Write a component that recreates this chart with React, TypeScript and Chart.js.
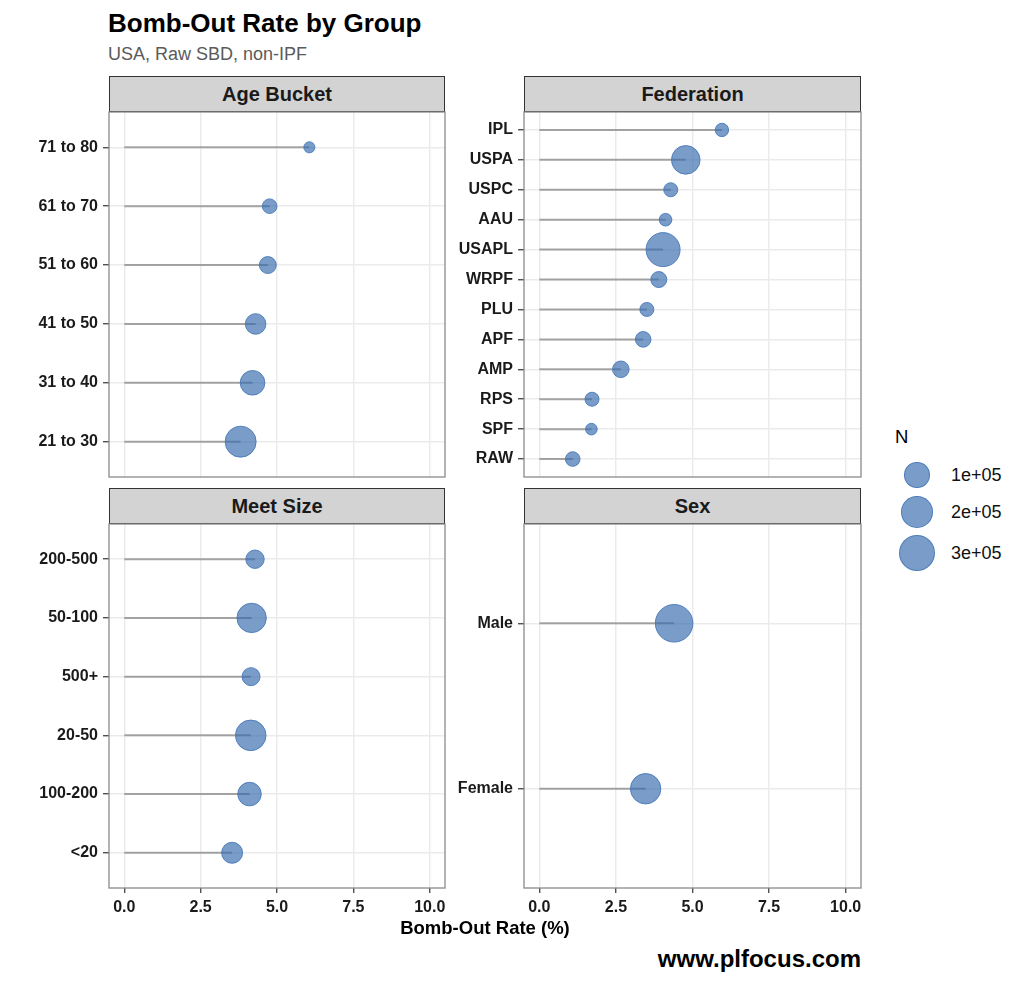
import React, { useEffect, useRef } from 'react';
import { Chart, registerables } from 'chart.js';

Chart.register(...registerables);

// ---------- data (top-to-bottom order as displayed) ----------
const AGE_CATS = ['71 to 80', '61 to 70', '51 to 60', '41 to 50', '31 to 40', '21 to 30'];
const AGE_RATE = [6.06, 4.76, 4.70, 4.30, 4.20, 3.81];
const AGE_N = [200, 8000, 19000, 46000, 90000, 188000];

const FED_CATS = ['IPL', 'USPA', 'USPC', 'AAU', 'USAPL', 'WRPF', 'PLU', 'APF', 'AMP', 'RPS', 'SPF', 'RAW'];
const FED_RATE = [5.96, 4.78, 4.29, 4.12, 4.04, 3.90, 3.51, 3.39, 2.66, 1.72, 1.70, 1.09];
const FED_N = [4000, 147000, 5800, 2200, 247000, 14000, 5800, 12000, 17000, 5800, 700, 7900];

const MEET_CATS = ['200-500', '50-100', '500+', '20-50', '100-200', '<20'];
const MEET_RATE = [4.28, 4.17, 4.15, 4.14, 4.10, 3.53];
const MEET_N = [28500, 160000, 25700, 181000, 77000, 50000];

const SEX_CATS = ['Male', 'Female'];
const SEX_RATE = [4.40, 3.47];
const SEX_N = [328000, 178000];

const X_TICKS = [0, 2.5, 5, 7.5, 10];
const SIZE_BREAKS = [100000, 200000, 300000];
const SIZE_LABELS = ['1e+05', '2e+05', '3e+05'];

// ---------- styling ----------
const FONT = '"Liberation Sans", Arial, Helvetica, sans-serif';
const FILL = 'rgba(52,104,172,0.66)';
const EDGE = 'rgba(72,122,186,0.9)';
const LINE = 'rgba(110,110,110,0.6)';

// size scale: radius grows with sqrt(N)
function sizeToRadius(n: number): number {
  return 5.19 + 0.02376 * Math.sqrt(n);
}

const panelBorder = {
  id: 'panelBorder',
  afterDatasetsDraw(chart: any) {
    const { ctx, chartArea } = chart;
    const { left, top, right, bottom } = chartArea;
    ctx.save();
    ctx.strokeStyle = '#8a8a8a';
    ctx.lineWidth = 1.3;
    ctx.strokeRect(left, top, right - left, bottom - top);
    ctx.restore();
  },
};

type PanelProps = {
  title: string;
  cats: string[];
  rates: number[];
  ns: number[];
  pl: number;
  pt: number;
  pw: number;
  ph: number;
  showX: boolean;
};

const Y_AXIS_W = 90;
const X_AXIS_H = 40;

function zeroPad(s: any) {
  s.paddingTop = 0;
  s.paddingBottom = 0;
  s.paddingLeft = 0;
  s.paddingRight = 0;
}

function Panel({ title, cats, rates, ns, pl, pt, pw, ph, showX }: PanelProps) {
  const ref = useRef<HTMLCanvasElement | null>(null);
  const cw = Y_AXIS_W + pw + 3;
  const ch = 2 + ph + (showX ? X_AXIS_H : 2);

  useEffect(() => {
    const n = cats.length;
    const yOf = (i: number) => n - i;
    const bubbles = cats.map((_, i) => ({ x: rates[i], y: yOf(i), r: sizeToRadius(ns[i]) }));
    const lines = cats.map((_, i) => ({
      type: 'line' as const,
      data: [
        { x: 0, y: yOf(i) },
        { x: rates[i], y: yOf(i) },
      ],
      borderColor: LINE,
      borderWidth: 2,
      pointRadius: 0,
      fill: false,
      order: 1,
    }));
    const tickFont = { family: FONT, size: 16, weight: 'bold' as const };
    const chart = new Chart(ref.current as HTMLCanvasElement, {
      type: 'bubble',
      data: {
        datasets: [
          {
            type: 'bubble',
            data: bubbles,
            backgroundColor: FILL,
            borderColor: EDGE,
            borderWidth: 1,
            order: 0,
            clip: false,
          } as any,
          ...(lines as any[]),
        ],
      },
      options: {
        animation: false,
        responsive: false,
        devicePixelRatio: window.devicePixelRatio || 1,
        layout: { autoPadding: false, padding: { left: 0, top: 2, right: 3, bottom: showX ? 0 : 2 } },
        plugins: { legend: { display: false }, tooltip: { enabled: false } },
        scales: {
          x: {
            type: 'linear',
            min: -0.5,
            max: 10.5,
            afterBuildTicks: (s: any) => {
              s.ticks = X_TICKS.map((v) => ({ value: v }));
            },
            afterFit: (s: any) => {
              s.height = showX ? X_AXIS_H : 0;
              zeroPad(s);
            },
            ticks: {
              display: showX,
              autoSkip: false,
              maxRotation: 0,
              padding: 5,
              color: '#1a1a1a',
              font: tickFont,
              callback: (v: any) => Number(v).toFixed(1),
            },
            grid: {
              color: '#ebebeb',
              lineWidth: 1.5,
              drawTicks: showX,
              tickLength: 5,
              tickColor: '#333333',
              tickWidth: 1.2,
            } as any,
            border: { display: false },
          },
          y: {
            type: 'linear',
            min: 0.4,
            max: n + 0.6,
            afterBuildTicks: (s: any) => {
              s.ticks = cats.map((_, i) => ({ value: yOf(i) }));
            },
            afterFit: (s: any) => {
              s.width = Y_AXIS_W;
              zeroPad(s);
            },
            ticks: {
              autoSkip: false,
              padding: 5,
              color: '#1a1a1a',
              font: tickFont,
              callback: (v: any) => cats[n - Math.round(Number(v))],
            },
            grid: {
              color: '#ebebeb',
              lineWidth: 1.5,
              drawTicks: true,
              tickLength: 6,
              tickColor: '#333333',
              tickWidth: 1.2,
            } as any,
            border: { display: false },
          },
        },
      },
      plugins: [panelBorder],
    });
    return () => chart.destroy();
  }, []);

  return (
    <>
      <div
        style={{
          position: 'absolute',
          left: pl,
          top: pt - 36,
          width: pw,
          height: 36,
          boxSizing: 'border-box',
          background: '#d3d3d3',
          border: '1.2px solid #333',
          display: 'flex',
          alignItems: 'center',
          justifyContent: 'center',
          fontFamily: FONT,
          fontWeight: 'bold',
          fontSize: 20,
          color: '#1a1a1a',
        }}
      >
        {title}
      </div>
      <canvas
        ref={ref}
        width={cw}
        height={ch}
        style={{ position: 'absolute', left: pl - Y_AXIS_W, top: pt - 2, width: cw, height: ch }}
      />
    </>
  );
}

export default function App() {
  const legendY = [475, 512, 553];
  return (
    <div
      style={{
        position: 'absolute',
        left: 0,
        top: 0,
        width: 1024,
        height: 984,
        background: '#ffffff',
        overflow: 'hidden',
        fontFamily: FONT,
      }}
    >
      <div
        style={{
          position: 'absolute',
          left: 108,
          top: 10,
          fontSize: 26,
          lineHeight: '26px',
          fontWeight: 'bold',
          color: '#000',
          whiteSpace: 'nowrap',
        }}
      >
        Bomb-Out Rate by Group
      </div>
      <div
        style={{
          position: 'absolute',
          left: 108,
          top: 45,
          fontSize: 18,
          lineHeight: '18px',
          color: '#5a5a5a',
          whiteSpace: 'nowrap',
        }}
      >
        USA, Raw SBD, non-IPF
      </div>

      <Panel title="Age Bucket" cats={AGE_CATS} rates={AGE_RATE} ns={AGE_N} pl={109} pt={112} pw={336} ph={365} showX={false} />
      <Panel title="Federation" cats={FED_CATS} rates={FED_RATE} ns={FED_N} pl={524} pt={112} pw={337} ph={365} showX={false} />
      <Panel title="Meet Size" cats={MEET_CATS} rates={MEET_RATE} ns={MEET_N} pl={109} pt={524} pw={336} ph={364} showX={true} />
      <Panel title="Sex" cats={SEX_CATS} rates={SEX_RATE} ns={SEX_N} pl={524} pt={524} pw={337} ph={364} showX={true} />

      <div
        style={{
          position: 'absolute',
          left: 109,
          width: 752,
          top: 919,
          textAlign: 'center',
          fontSize: 18.5,
          lineHeight: '18.5px',
          fontWeight: 'bold',
          color: '#000',
        }}
      >
        Bomb-Out Rate (%)
      </div>
      <div
        style={{
          position: 'absolute',
          right: 1024 - 861,
          top: 947,
          fontSize: 24,
          lineHeight: '24px',
          fontWeight: 'bold',
          color: '#000',
          whiteSpace: 'nowrap',
        }}
      >
        www.plfocus.com
      </div>

      {/* size legend */}
      <div style={{ position: 'absolute', left: 895, top: 427, fontSize: 18.5, lineHeight: '20px', color: '#000' }}>N</div>
      {SIZE_BREAKS.map((b, i) => {
        const r = sizeToRadius(b);
        return (
          <React.Fragment key={b}>
            <div
              style={{
                position: 'absolute',
                left: 917 - r,
                top: legendY[i] - r,
                width: 2 * r,
                height: 2 * r,
                boxSizing: 'border-box',
                borderRadius: '50%',
                background: FILL,
                border: `1px solid ${EDGE}`,
              }}
            />
            <div
              style={{
                position: 'absolute',
                left: 951,
                top: legendY[i] - 10,
                fontSize: 18,
                lineHeight: '20px',
                color: '#111',
              }}
            >
              {SIZE_LABELS[i]}
            </div>
          </React.Fragment>
        );
      })}
    </div>
  );
}
